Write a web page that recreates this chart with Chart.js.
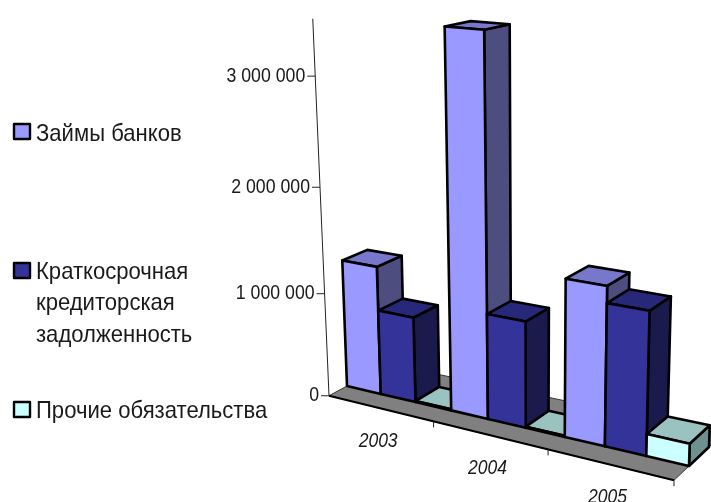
<!DOCTYPE html>
<html>
<head>
<meta charset="utf-8">
<style>
html, body { margin: 0; padding: 0; background: #fff; }
canvas { display: block; }
</style>
<script src="https://cdn.jsdelivr.net/npm/chart.js@4"></script>
</head>
<body>
<canvas id="chart" width="711" height="502"></canvas>
<script>
const categories = ["2003", "2004", "2005"];
const seriesNames = ["Займы банков", "Краткосрочная кредиторская задолженность", "Прочие обязательства"];
const bankLoans = [1240000, 3480000, 1440000];
const shortTermPayables = [820000, 990000, 1290000];
const otherLiabilities = [10000, 10000, 200000];
const axisTicks = [0, 1000000, 2000000, 3000000];
const axisMax = 3500000;

// legend layout and the look of each series: front, top, side
const legendLines = [["Займы банков"], ["Краткосрочная", "кредиторская", "задолженность"], ["Прочие обязательства"]];
const legendSwatchY = [124, 263, 402];
const legendTextY = [[134], [272, 303, 335], [411]];
const faces = [
    ["#9999ff", "#7777cc", "#4d4d80"],
    ["#333399", "#28287a", "#1a1a4d"],
    ["#ccffff", "#99c2c0", "#6e918f"]
];

// corners of the plane holding the bar fronts and the plane holding their backs
const frontQuad = [[347, 386], [689, 466], [702, 45], [333, 15]];
const backQuad = [[371, 373], [709, 447], [723, 39], [360, 10]];
const floorFront = -0.75;
const floorBack = 1.7;

function homography(q) {
    const [p0, p1, p2, p3] = q;
    const dx1 = p1[0] - p2[0], dx2 = p3[0] - p2[0], sx = p0[0] - p1[0] + p2[0] - p3[0];
    const dy1 = p1[1] - p2[1], dy2 = p3[1] - p2[1], sy = p0[1] - p1[1] + p2[1] - p3[1];
    const d = dx1 * dy2 - dx2 * dy1;
    const g = (sx * dy2 - dx2 * sy) / d;
    const h = (dx1 * sy - sx * dy1) / d;
    const a = p1[0] - p0[0] + g * p1[0], b = p3[0] - p0[0] + h * p3[0];
    const e = p1[1] - p0[1] + g * p1[1], f = p3[1] - p0[1] + h * p3[1];
    return (u, v) => {
        const w = g * u + h * v + 1;
        return [(a * u + b * v + p0[0]) / w, (e * u + f * v + p0[1]) / w];
    };
}

const frontMap = homography(frontQuad);
const backMap = homography(backQuad);

function project(u, v, z) {
    const f = frontMap(u, v);
    const b = backMap(u, v);
    return [f[0] + z * (b[0] - f[0]), f[1] + z * (b[1] - f[1])];
}

function polygon(ctx, pts, fill, stroke, lineWidth) {
    ctx.beginPath();
    pts.forEach((p, i) => i ? ctx.lineTo(p[0], p[1]) : ctx.moveTo(p[0], p[1]));
    ctx.closePath();
    if (fill) {
        ctx.fillStyle = fill;
        ctx.fill();
    }
    if (stroke) {
        ctx.strokeStyle = stroke;
        ctx.lineWidth = lineWidth;
        ctx.stroke();
    }
}

function line(ctx, a, b, width, color) {
    ctx.beginPath();
    ctx.moveTo(a[0], a[1]);
    ctx.lineTo(b[0], b[1]);
    ctx.lineWidth = width;
    ctx.strokeStyle = color;
    ctx.stroke();
}

// the reference type is tall and a bit narrow, so squeeze it sideways
function narrowText(ctx, text, x, y, squeeze) {
    ctx.save();
    ctx.translate(x, y);
    ctx.scale(squeeze, 1);
    ctx.fillStyle = "#1a1a1a";
    ctx.fillText(text, 0, 0);
    ctx.restore();
}

const scene3d = {
    id: "scene3d",
    beforeDatasetsDraw(chart) {
        const ctx = chart.ctx;
        const area = chart.chartArea;
        const xScale = chart.scales.x;
        const yScale = chart.scales.y;
        const toU = x => (x - area.left) / (area.right - area.left);
        const toV = y => (area.bottom - y) / (area.bottom - area.top);
        ctx.save();
        ctx.lineJoin = "round";

        // floor
        polygon(ctx, [project(0, 0, floorFront), project(1, 0, floorFront), project(1, 0, floorBack), project(0, 0, floorBack)], "#808080", "#333", 1);
        line(ctx, project(0, 0, floorFront), project(1, 0, floorFront), 2, "#000");

        // value axis
        const axisTop = project(0, 1, floorFront);
        const axisBottom = project(0, 0, floorFront);
        line(ctx, axisTop, axisBottom, 1, "#222");
        ctx.font = "20px 'Liberation Sans'";
        ctx.textAlign = "right";
        ctx.textBaseline = "middle";
        yScale.ticks.forEach(tick => {
            const p = project(0, toV(yScale.getPixelForValue(tick.value)), floorFront);
            line(ctx, [p[0] - 8, p[1]], p, 1, "#222");
            narrowText(ctx, tick.label, p[0] - 10, p[1], 0.885);
        });

        // category ticks and labels along the front of the floor
        ctx.font = "italic 20px 'Liberation Sans'";
        ctx.textAlign = "center";
        categories.forEach((name, i) => {
            const edge = project((i + 1) / categories.length, 0, floorFront);
            line(ctx, edge, [edge[0], edge[1] + 6], 1, "#222");
            const p = project(toU(xScale.getPixelForValue(i)), 0, floorFront);
            narrowText(ctx, name, p[0] - 2, p[1] + 33, 0.875);
        });

        // bars, left to right so each one hides the side of the one before
        categories.forEach((name, c) => {
            chart.data.datasets.forEach((ds, s) => {
                const bar = chart.getDatasetMeta(s).data[c];
                const u0 = toU(bar.x - bar.width / 2);
                const u1 = toU(bar.x + bar.width / 2);
                const v = toV(bar.y);
                const b0 = toV(bar.base);
                const [front, top, side] = faces[s];
                polygon(ctx, [project(u1, b0, 0), project(u1, b0, 1), project(u1, v, 1), project(u1, v, 0)], side, "#000", 2.6);
                polygon(ctx, [project(u0, v, 0), project(u1, v, 0), project(u1, v, 1), project(u0, v, 1)], top, "#000", 2.6);
                polygon(ctx, [project(u0, b0, 0), project(u1, b0, 0), project(u1, v, 0), project(u0, v, 0)], front, "#000", 2.6);
            });
        });

        // legend
        ctx.font = "24px 'Liberation Sans'";
        ctx.textAlign = "left";
        legendLines.forEach((lines, s) => {
            const y = legendSwatchY[s];
            polygon(ctx, [[14, y], [30, y], [30, y + 15], [14, y + 15]], faces[s][0], "#000", 2.4);
            lines.forEach((text, i) => narrowText(ctx, text, 36, legendTextY[s][i], 0.92));
        });

        ctx.restore();
        return false;
    }
};

new Chart(document.getElementById("chart"), {
    type: "bar",
    data: {
        labels: categories,
        datasets: [
            { label: seriesNames[0], data: bankLoans, backgroundColor: faces[0][0] },
            { label: seriesNames[1], data: shortTermPayables, backgroundColor: faces[1][0] },
            { label: seriesNames[2], data: otherLiabilities, backgroundColor: faces[2][0] }
        ]
    },
    options: {
        responsive: false,
        animation: false,
        events: [],
        datasets: { bar: { categoryPercentage: 1, barPercentage: 1 } },
        plugins: { legend: { display: false }, tooltip: { enabled: false } },
        scales: {
            x: {
                grid: { display: false },
                border: { display: false },
                ticks: { display: false }
            },
            y: {
                min: 0,
                max: axisMax,
                grid: { display: false },
                border: { display: false },
                afterBuildTicks: scale => {
                    scale.ticks = axisTicks.map(value => ({ value }));
                },
                ticks: {
                    display: false,
                    callback: value => String(value).replace(/\B(?=(\d{3})+$)/g, " ")
                }
            }
        }
    },
    plugins: [scene3d]
});
</script>
</body>
</html>
